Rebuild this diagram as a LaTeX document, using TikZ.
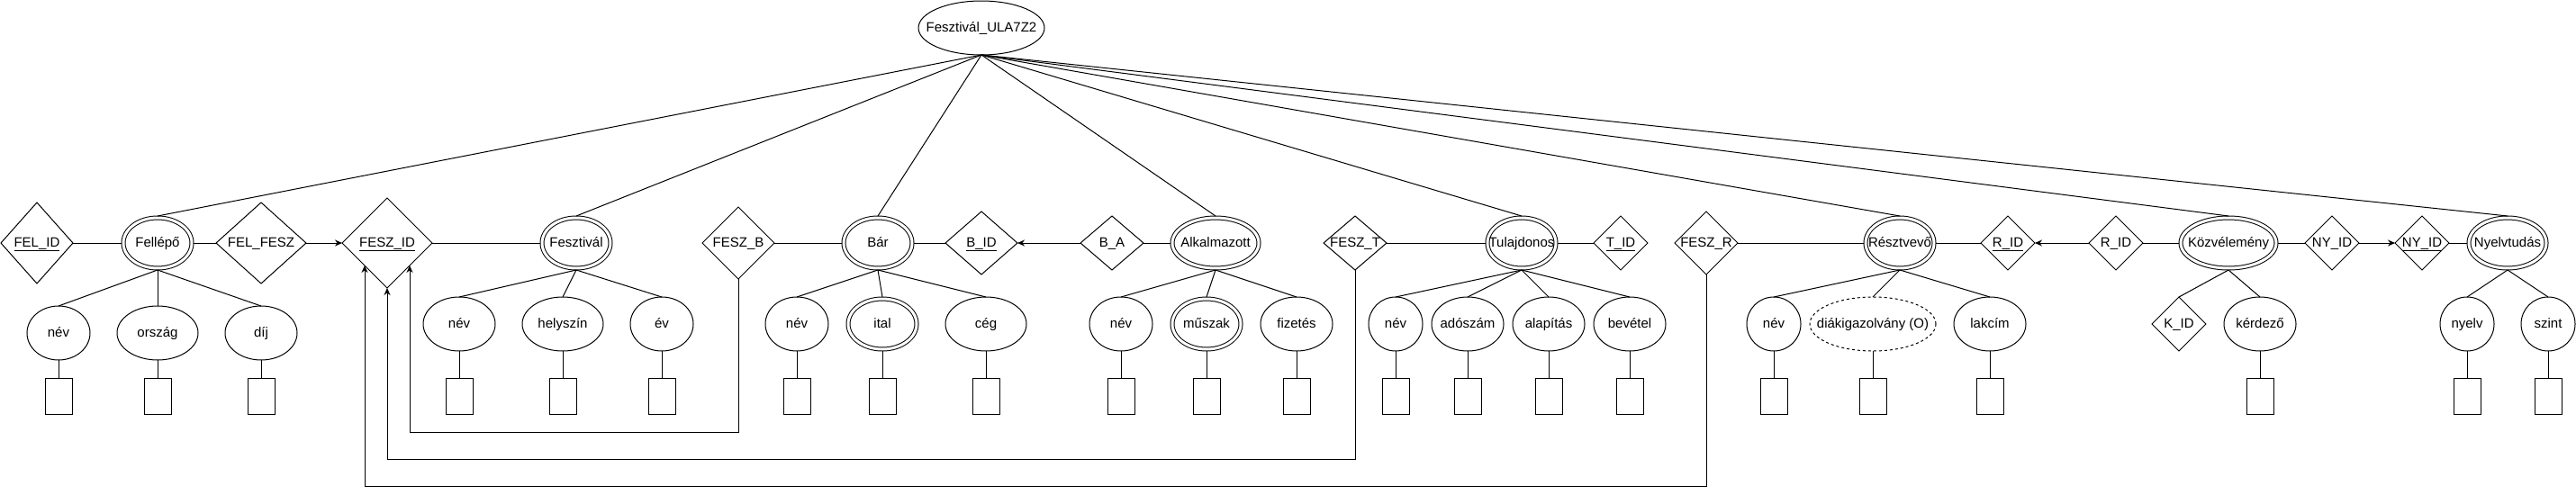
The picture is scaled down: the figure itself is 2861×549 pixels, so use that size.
\documentclass[tikz,border=0pt]{standalone}
\usepackage{fontspec}
\setmainfont{Liberation Sans}
\usetikzlibrary{shapes.geometric,arrows.meta}
\newcommand\tx[1]{\makebox[0pt]{#1}}
\begin{document}
\begin{tikzpicture}[x=1pt,y=-1pt,
  base/.style={draw, line width=1pt, inner sep=0pt, outer sep=0pt, text height=11pt, text depth=3pt, font=\fontsize{15}{18}\selectfont},
  attr/.style={base, ellipse, minimum height=60pt, minimum width=#1},
  dattr/.style={base, ellipse, minimum height=56pt, minimum width=#1, double, double distance=3pt, outer sep=2pt},
  oattr/.style={base, ellipse, minimum height=60pt, minimum width=#1, dash pattern=on 3pt off 3pt},
  ent/.style={base, ellipse, minimum height=56pt, minimum width=#1, double, double distance=3pt, outer sep=2pt},
  rel/.style n args={2}{base, diamond, minimum width=#1, minimum height=#2},
  box/.style={base, rectangle, minimum width=30pt, minimum height=40pt},
  ln/.style={line width=1pt},
  arr/.style={line width=1pt, -{Stealth[length=8pt,width=7pt]}}
]
\useasboundingbox (0,0) rectangle (2861,549);

% top
\node[base, ellipse, minimum width=140pt, minimum height=60pt] (top) at (1090,31) {\tx{Fesztivál\_ULA7Z2}};

% main row
\node[rel={80pt}{90pt}] (felid) at (41,270) {\tx{\underline{FEL\_ID}}};
\node[ent=76pt] (fellepo) at (175,270) {\tx{Fellépő}};
\node[rel={100pt}{90pt}] (felfesz) at (290,270) {\tx{FEL\_FESZ}};
\node[rel={100pt}{100pt}] (feszid) at (430,270) {\tx{\underline{FESZ\_ID}}};
\node[ent=76pt] (fesztival) at (640,270) {\tx{Fesztivál}};
\node[rel={80pt}{80pt}] (feszb) at (820,270) {\tx{FESZ\_B}};
\node[ent=76pt] (bar) at (975,270) {\tx{Bár}};
\node[rel={80pt}{70pt}] (bid) at (1090,270) {\tx{\underline{B\_ID}}};
\node[rel={70pt}{60pt}] (ba) at (1235,270) {\tx{B\_A}};
\node[ent=96pt] (alk) at (1350,270) {\tx{Alkalmazott}};
\node[rel={70pt}{60pt}] (feszt) at (1505,270) {\tx{FESZ\_T}};
\node[ent=76pt] (tul) at (1690,270) {\tx{Tulajdonos}};
\node[rel={60pt}{60pt}] (tid) at (1800,270) {\tx{\underline{T\_ID}}};
\node[rel={70pt}{70pt}] (feszr) at (1895,270) {\tx{FESZ\_R}};
\node[ent=76pt] (reszt) at (2110,270) {\tx{Résztvevő}};
\node[rel={60pt}{60pt}] (ridA) at (2230,270) {\tx{\underline{R\_ID}}};
\node[rel={60pt}{60pt}] (ridB) at (2350,270) {\tx{R\_ID}};
\node[ent=106pt] (kozv) at (2475,270) {\tx{Közvélemény}};
\node[rel={60pt}{60pt}] (nyidA) at (2590,270) {\tx{NY\_ID}};
\node[rel={60pt}{60pt}] (nyidB) at (2690,270) {\tx{\underline{NY\_ID}}};
\node[ent=86pt] (nyelvt) at (2785,270) {\tx{Nyelvtudás}};

% attributes
\node[attr=70pt] (a1) at (65,370) {\tx{név}};
\node[attr=90pt] (a2) at (175,370) {\tx{ország}};
\node[attr=80pt] (a3) at (290,370) {\tx{díj}};
\node[attr=80pt] (a4) at (510,360) {\tx{név}};
\node[attr=90pt] (a5) at (625,360) {\tx{helyszín}};
\node[attr=70pt] (a6) at (735,360) {\tx{év}};
\node[attr=70pt] (a7) at (885,360) {\tx{név}};
\node[dattr=76pt] (a8) at (980,360) {\tx{ital}};
\node[attr=90pt] (a9) at (1095,360) {\tx{cég}};
\node[attr=70pt] (a10) at (1245,360) {\tx{név}};
\node[dattr=76pt] (a11) at (1340,360) {\tx{műszak}};
\node[attr=80pt] (a12) at (1440,360) {\tx{fizetés}};
\node[attr=60pt] (a13) at (1550,360) {\tx{név}};
\node[attr=80pt] (a14) at (1630,360) {\tx{adószám}};
\node[attr=80pt] (a15) at (1720,360) {\tx{alapítás}};
\node[attr=80pt] (a16) at (1810,360) {\tx{bevétel}};
\node[attr=60pt] (a17) at (1970,360) {\tx{név}};
\node[oattr=140pt] (a18) at (2080,360) {\tx{diákigazolvány (O)}};
\node[attr=80pt] (a19) at (2210,360) {\tx{lakcím}};
\node[rel={60pt}{60pt}] (kid) at (2420,360) {\tx{K\_ID}};
\node[attr=80pt] (a20) at (2510,360) {\tx{kérdező}};
\node[attr=60pt] (a21) at (2740,360) {\tx{nyelv}};
\node[attr=60pt] (a22) at (2830,360) {\tx{szint}};

% boxes
\foreach \a/\x in {a1/65,a2/175,a3/290,a4/510,a5/625,a6/735,a7/885,a8/980,a9/1095,a10/1245,a11/1340,a12/1440,a13/1550,a14/1630,a15/1720,a16/1810,a17/1970,a18/2080,a19/2210,a20/2510,a21/2740,a22/2830}{
  \node[box] (b\a) at (\x,440) {};
  \draw[ln] (\a.south) -- (b\a.north);
}

% top lines
\foreach \e in {fellepo,fesztival,bar,alk,tul,reszt,kozv,nyelvt}{
  \draw[ln] (top.south) -- (\e.north);
}

% entity to attribute lines
\foreach \e/\a in {fellepo/a1,fellepo/a2,fellepo/a3,fesztival/a4,fesztival/a5,fesztival/a6,bar/a7,bar/a8,bar/a9,alk/a10,alk/a11,alk/a12,tul/a13,tul/a14,tul/a15,tul/a16,reszt/a17,reszt/a18,reszt/a19,kozv/kid,kozv/a20,nyelvt/a21,nyelvt/a22}{
  \draw[ln] (\e.south) -- (\a.north);
}

% horizontal connectors
\draw[ln] (felid.east) -- (fellepo.west);
\draw[ln] (fellepo.east) -- (felfesz.west);
\draw[arr] (felfesz.east) -- (feszid.west);
\draw[ln] (feszid.east) -- (fesztival.west);
\draw[ln] (feszb.east) -- (bar.west);
\draw[ln] (bar.east) -- (bid.west);
\draw[arr] (ba.west) -- (bid.east);
\draw[ln] (ba.east) -- (alk.west);
\draw[ln] (feszt.east) -- (tul.west);
\draw[ln] (tul.east) -- (tid.west);
\draw[ln] (feszr.east) -- (reszt.west);
\draw[ln] (reszt.east) -- (ridA.west);
\draw[arr] (ridB.west) -- (ridA.east);
\draw[ln] (ridB.east) -- (kozv.west);
\draw[ln] (kozv.east) -- (nyidA.west);
\draw[arr] (nyidA.east) -- (nyidB.west);
\draw[ln] (nyidB.east) -- (nyelvt.west);

% elbow connectors to FESZ_ID
\draw[arr] (feszb.south) -- ++(0,170) -| (feszid.south east);
\draw[arr] (feszt.south) -- ++(0,210) -| (feszid.south);
\draw[arr] (feszr.south) -- ++(0,235) -| (feszid.south west);
\end{tikzpicture}
\end{document}
